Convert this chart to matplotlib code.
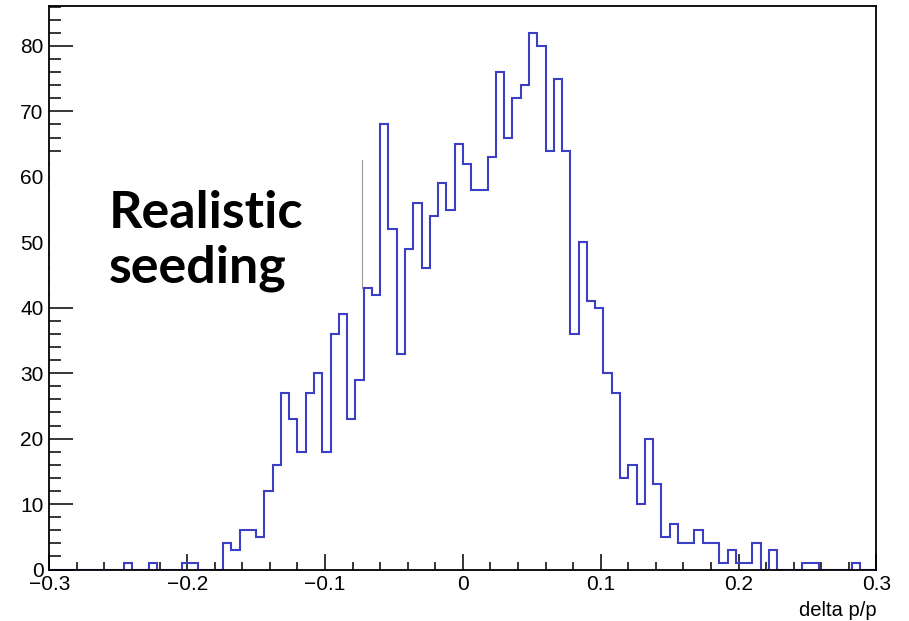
import matplotlib
matplotlib.use("Agg")
import matplotlib.pyplot as plt
from matplotlib.patches import Rectangle
from matplotlib.lines import Line2D
from matplotlib.ticker import MultipleLocator
import numpy as np

# histogram of delta p/p, 100 bins from -0.3 to 0.3
x_min, x_max, n_bins = -0.3, 0.3, 100
counts = [
    0, 0, 0, 0, 0, 0, 0, 0, 0, 1,
    0, 0, 1, 0, 0, 0, 1, 1, 0, 0,
    0, 4, 3, 6, 6, 5, 12, 16, 27, 23,
    18, 27, 30, 18, 36, 39, 23, 29, 43, 42,
    68, 52, 33, 49, 56, 46, 54, 59, 55, 65,
    62, 58, 58, 63, 76, 66, 72, 74, 82, 80,
    64, 75, 64, 36, 50, 41, 40, 30, 27, 14,
    16, 10, 20, 13, 5, 7, 4, 4, 6, 4,
    4, 1, 3, 1, 1, 4, 0, 3, 0, 0,
    0, 1, 1, 0, 0, 0, 0, 1, 0, 0,
]
x_label = "delta p/p"
note = "Realistic\nseeding"

edges = np.linspace(x_min, x_max, n_bins + 1)

plt.rcParams['font.family'] = ['Liberation Sans', 'DejaVu Sans']

fig = plt.figure(figsize=(9.09, 6.21), dpi=100)
ax = fig.add_axes([0.0542, 0.0829, 0.9100, 0.9074])

ax.stairs(counts, edges, color='#3a3fc4', linewidth=1.5, zorder=2)

ax.set_xlim(x_min, x_max)
ax.set_ylim(0, 1.05 * max(counts))

ax.xaxis.set_major_locator(MultipleLocator(0.1))
ax.xaxis.set_minor_locator(MultipleLocator(0.02))
ax.yaxis.set_major_locator(MultipleLocator(10))
ax.yaxis.set_minor_locator(MultipleLocator(2))
ax.xaxis.set_major_formatter(lambda v, p: "0" if abs(v) < 1e-9 else f"{v:g}".replace("-", "\u2212"))

ax.tick_params(axis='x', which='major', direction='in', length=11.5, width=1.1, labelsize=15, pad=4)
ax.tick_params(axis='x', which='minor', direction='in', length=5.8, width=1.1)
ax.tick_params(axis='y', which='major', direction='in', length=17, width=1.1, labelsize=15, pad=4)
ax.tick_params(axis='y', which='minor', direction='in', length=8.6, width=1.1)

for s in ax.spines.values():
    s.set_linewidth(1.3)
    s.set_zorder(3)

ax.set_xlabel(x_label, fontsize=14.5, loc='right', labelpad=5)

# pasted white box with the note
fig.add_artist(Rectangle((50 / 909, 1 - 302 / 621), 312 / 909, 140 / 621,
                         transform=fig.transFigure, facecolor='white',
                         edgecolor='none', zorder=5))
fig.add_artist(Line2D([362 / 909, 362 / 909], [1 - 288 / 621, 1 - 160 / 621],
                      transform=fig.transFigure, color='#999999',
                      linewidth=0.8, zorder=6))
fig.text(109 / 909, 1 - 283 / 621, note, fontsize=37.5, fontweight='bold',
         family=['Lato', 'DejaVu Sans'], ha='left', va='baseline',
         linespacing=1.2, zorder=7)

fig.savefig("out.png", dpi=100)
